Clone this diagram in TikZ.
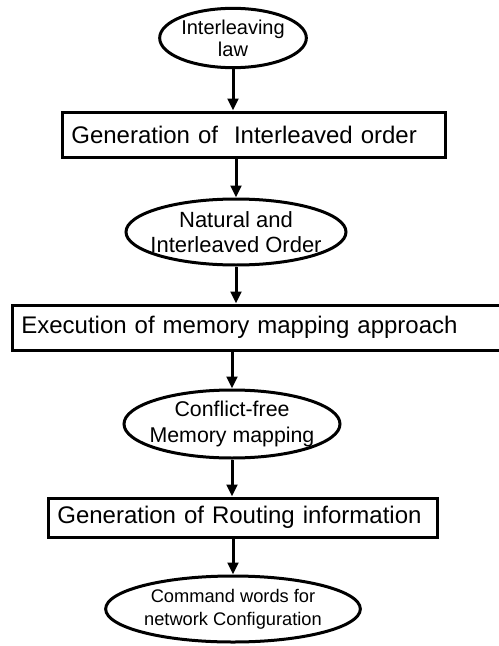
\documentclass[tikz,border=0pt]{standalone}
\usepackage{fontspec}
\setmainfont{Liberation Sans}
\usetikzlibrary{shapes.geometric,arrows.meta}

\tikzset{
  oval/.style={draw, ellipse, line width=2.25pt, inner xsep=-30pt, inner ysep=-15pt, align=center},
  stage/.style={draw, rectangle, line width=2.25pt, inner xsep=7pt, inner ysep=0pt,
    align=left, font=\fontsize{18}{21}\selectfont},
  flow/.style={line width=2.25pt, -{Triangle[width=8pt,length=9pt]}}
}

\begin{document}
\begin{tikzpicture}[x=0.75pt,y=-0.75pt]
      \useasboundingbox (0,0) rectangle (499,646);

      % Ovals
      \node[oval, minimum width=110pt, minimum height=44.5pt,
        font=\fontsize{15}{16.5}\selectfont] (law) at (233,38)
        {Interleaving\\law};
      \node[oval, minimum width=165pt, minimum height=49.5pt,
        font=\fontsize{16.5}{18.75}\selectfont] (order) at (236,232)
        {Natural and\\Interleaved Order};
      \node[oval, minimum width=162pt, minimum height=51pt,
        font=\fontsize{16}{19.5}\selectfont] (mapping) at (232,424)
        {Conflict-free\\Memory mapping};
      \node[oval, minimum width=191pt, minimum height=49.5pt,
        font=\fontsize{13.7}{17.3}\selectfont] (command) at (233,609)
        {Command words for\\network Configuration};

      % Stages
      \node[stage, text width=273.25pt, minimum height=33.75pt] (genorder) at (253.5,134.5)
        {Generation of \ Interleaved order};
      \node[stage, text width=355.75pt, minimum height=33.75pt] (memexec) at (258.5,327.5)
        {Execution of memory mapping approach};
      \node[stage, text width=277.75pt, minimum height=29.25pt] (routing) at (242.5,517.5)
        {Generation of Routing information};

      % Flow
      \draw[flow] (law.south) -- (law.south |- genorder.north);
      \draw[flow] (order.north |- genorder.south) -- (order.north);
      \draw[flow] (order.south) -- (order.south |- memexec.north);
      \draw[flow] (mapping.north |- memexec.south) -- (mapping.north);
      \draw[flow] (mapping.south) -- (mapping.south |- routing.north);
      \draw[flow] (command.north |- routing.south) -- (command.north);
\end{tikzpicture}
\end{document}
